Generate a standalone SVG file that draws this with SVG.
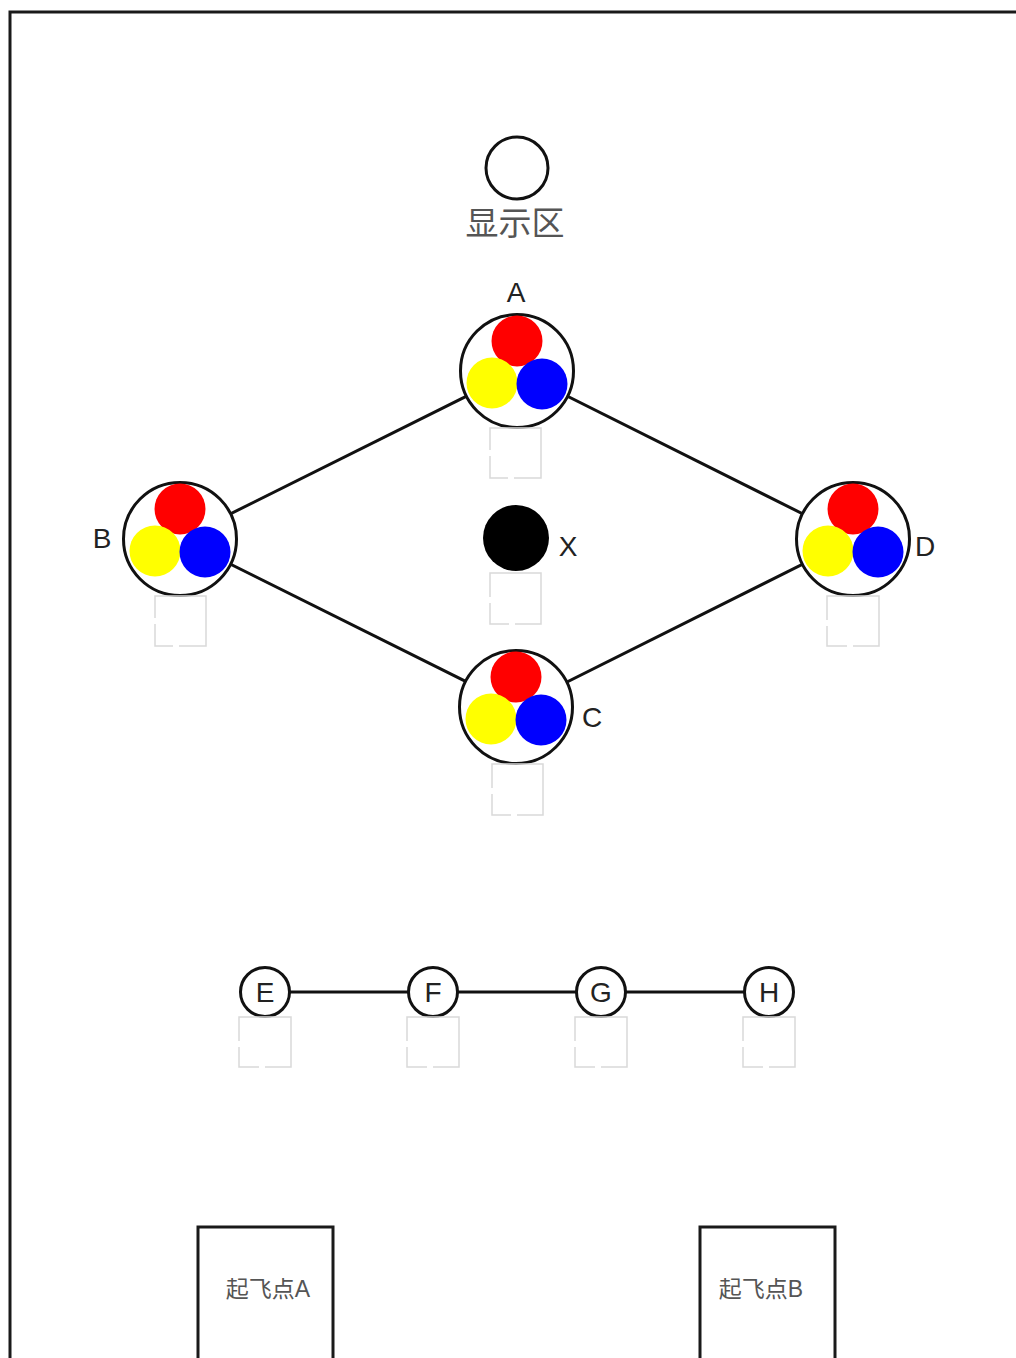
<svg xmlns="http://www.w3.org/2000/svg" width="1016" height="1358" viewBox="0 0 1016 1358">
<style>
.frame{fill:none;stroke:#1a1a1a;stroke-width:3}
.ring{fill:#fff;stroke:#111;stroke-width:3}
.edge{stroke:#111;stroke-width:3;fill:none}
.slot{fill:none;stroke:#d9d9d9;stroke-width:1.5;stroke-dasharray:128 6 40 6}
.lbl{font-family:"Liberation Sans",Arial,sans-serif;font-size:28px;fill:#222;text-anchor:middle}
.cjk{font-family:"Liberation Sans","Noto Sans CJK SC",sans-serif;fill:#555;text-anchor:middle}
.r{fill:#f00}.y{fill:#ff0}.b{fill:#00f}
</style>
<defs>
<g id="tri">
<circle r="56.5" class="ring"/>
<circle cx="0" cy="-30" r="25.5" class="r"/>
<circle cx="-25" cy="12" r="25.5" class="y"/>
<circle cx="25" cy="13" r="25.5" class="b"/>
</g>
</defs>
<rect x="10" y="12" width="1030" height="1400" class="frame"/>
<g id="connectors">
<line x1="517" y1="371" x2="180" y2="539" class="edge"/>
<line x1="517" y1="371" x2="853" y2="539" class="edge"/>
<line x1="180" y1="539" x2="517" y2="707" class="edge"/>
<line x1="517" y1="707" x2="853" y2="539" class="edge"/>
<line x1="265" y1="992" x2="769" y2="992" class="edge"/>
</g>
<g id="display">
<circle cx="517" cy="168" r="31" class="ring"/>
<text x="515" y="235" class="cjk" font-size="33">显示区</text>
</g>
<g id="nodeA">
<use href="#tri" x="517" y="371"/>
<text x="516" y="302" class="lbl">A</text>
<rect x="490" y="428" width="51" height="50" class="slot"/>
</g>
<g id="nodeB">
<use href="#tri" x="180" y="539"/>
<text x="102" y="548" class="lbl">B</text>
<rect x="155" y="596" width="51" height="50" class="slot"/>
</g>
<g id="nodeD">
<use href="#tri" x="853" y="539"/>
<text x="925" y="556" class="lbl">D</text>
<rect x="827" y="596" width="52" height="50" class="slot"/>
</g>
<g id="nodeC">
<use href="#tri" x="516" y="707"/>
<text x="592" y="727" class="lbl">C</text>
<rect x="492" y="764" width="51" height="51" class="slot"/>
</g>
<g id="nodeX">
<circle cx="516" cy="538" r="33" fill="#000"/>
<text x="568" y="556" class="lbl">X</text>
<rect x="490" y="573" width="51" height="51" class="slot"/>
</g>
<g id="nodeE">
<circle cx="265" cy="992" r="24.5" class="ring" stroke-width="2"/>
<text x="265" y="1002" class="lbl">E</text>
<rect x="239" y="1017" width="52" height="50" class="slot"/>
</g>
<g id="nodeF">
<circle cx="433" cy="992" r="24.5" class="ring" stroke-width="2"/>
<text x="433" y="1002" class="lbl">F</text>
<rect x="407" y="1017" width="52" height="50" class="slot"/>
</g>
<g id="nodeG">
<circle cx="601" cy="992" r="24.5" class="ring" stroke-width="2"/>
<text x="601" y="1002" class="lbl">G</text>
<rect x="575" y="1017" width="52" height="50" class="slot"/>
</g>
<g id="nodeH">
<circle cx="769" cy="992" r="24.5" class="ring" stroke-width="2"/>
<text x="769" y="1002" class="lbl">H</text>
<rect x="743" y="1017" width="52" height="50" class="slot"/>
</g>
<g id="takeoffA">
<rect x="198" y="1227" width="135" height="180" class="frame"/>
<text x="268" y="1297" class="cjk" font-size="23">起飞点A</text>
</g>
<g id="takeoffB">
<rect x="700" y="1227" width="135" height="180" class="frame"/>
<text x="761" y="1297" class="cjk" font-size="23">起飞点B</text>
</g>
</svg>
